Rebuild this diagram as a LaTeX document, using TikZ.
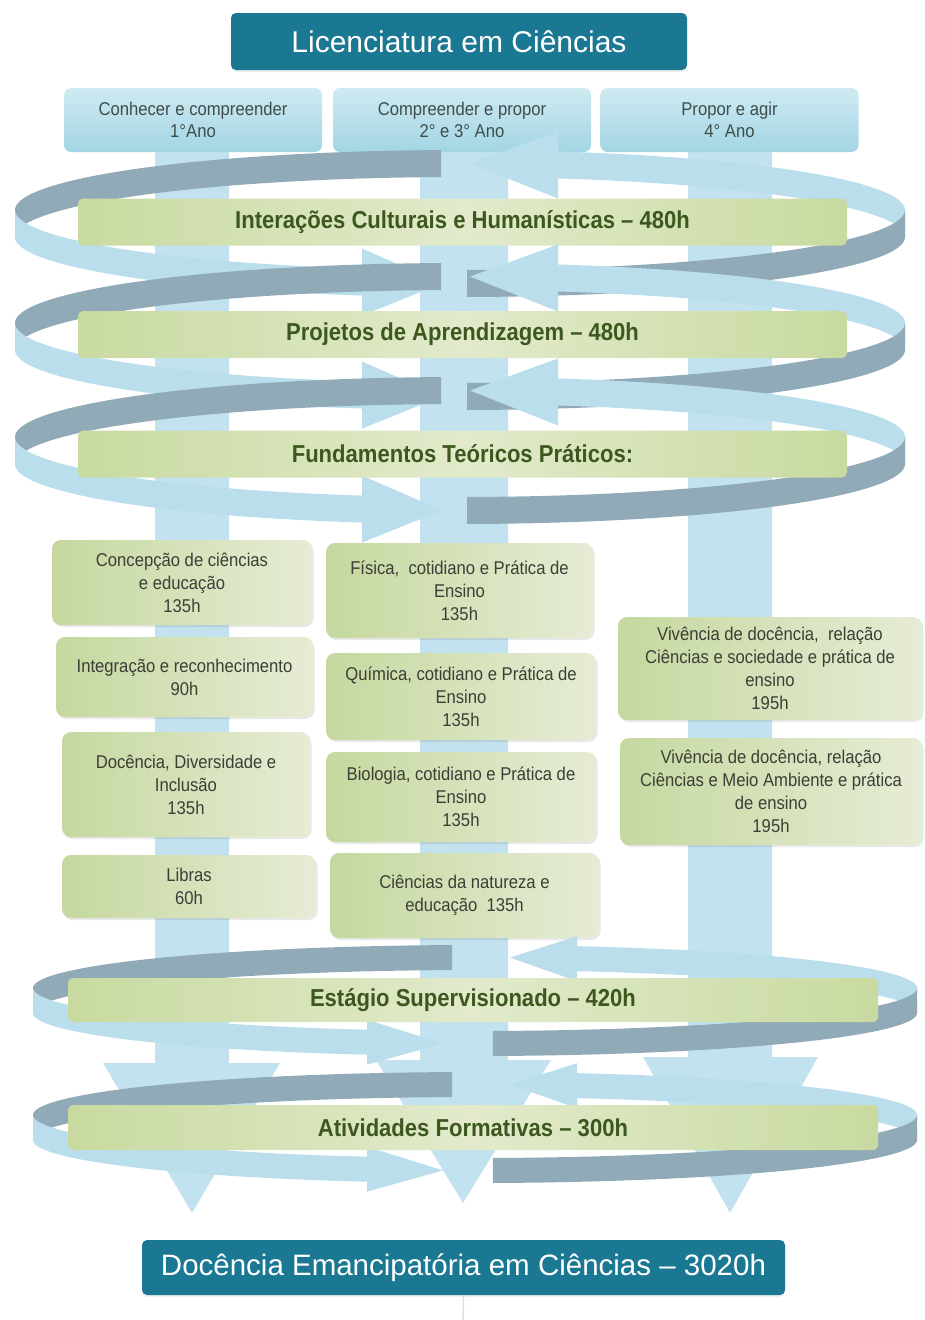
\documentclass[tikz,border=0pt]{standalone}
\usepackage{fontspec}
\setmainfont{Liberation Sans}
\newfontfamily\nf{Liberation Sans}[FakeStretch=0.9]
\usetikzlibrary{shadows}

\definecolor{titleblue}{HTML}{1B7893}
\definecolor{hdrtop}{HTML}{CFEAF2}
\definecolor{hdrbot}{HTML}{A3D5E4}
\definecolor{hdrtext}{HTML}{3F4D4A}
\definecolor{colblue}{HTML}{C1E2EE}
\definecolor{ringlight}{HTML}{BADEEB}
\definecolor{ringdark}{HTML}{90AAB7}
\definecolor{bandedge}{HTML}{C8DAA0}
\definecolor{bandmid}{HTML}{E2EACB}
\definecolor{boxA}{HTML}{C5D89F}
\definecolor{boxB}{HTML}{E6ECD5}
\definecolor{bandtext}{HTML}{3D581E}
\definecolor{boxtext}{HTML}{3B3F36}

% #1 cx, #2 cy (top edge ellipse centre), #3 rx, #4 ry, #5 ribbon height
\newcommand\drawring[5]{%
  \pgfmathsetmacro\rgA{360-acos((\rgdk-#1)/#3)}%
  \pgfmathsetmacro\rgB{360-acos((\rgtb-#1)/#3)}%
  \pgfmathsetmacro\rgT{360-acos((\rgtt-#1)/#3)}%
  \pgfmathsetmacro\rgC{acos((\rgbb-#1)/#3)}%
  \pgfmathsetmacro\rgE{acos((\rgbt-#1)/#3)}%
  \pgfmathsetmacro\rgD{acos((\rgds-#1)/#3)}%
  % back, top left (dark)
  \fill[ringdark] plot[domain=180:\rgA,samples=60] ({#1+#3*cos(\x)},{#2+#4*sin(\x)})
     -- plot[domain=\rgA:180,samples=60] ({#1+#3*cos(\x)},{#2+#5+#4*sin(\x)}) -- cycle;
  % back, top right (light) with arrow head pointing left
  \fill[ringlight] plot[domain=\rgB:360,samples=60] ({#1+#3*cos(\x)},{#2+#4*sin(\x)})
     -- plot[domain=360:\rgB,samples=60] ({#1+#3*cos(\x)},{#2+#5+#4*sin(\x)}) -- cycle;
  \fill[ringlight] (\rgtb,{#2+#4*sin(\rgB)-\rgaw}) -- (\rgtt,{#2+#4*sin(\rgT)+#5/2})
     -- (\rgtb,{#2+#4*sin(\rgB)+#5+\rgaw}) -- cycle;
  % front, bottom left (light) with arrow head pointing right
  \fill[ringlight] plot[domain=\rgC:180,samples=60] ({#1+#3*cos(\x)},{#2+#4*sin(\x)})
     -- plot[domain=180:\rgC,samples=60] ({#1+#3*cos(\x)},{#2+#5+#4*sin(\x)}) -- cycle;
  \fill[ringlight] (\rgbb,{#2+#4*sin(\rgC)-\rgaw}) -- (\rgbt,{#2+#4*sin(\rgE)+#5/2})
     -- (\rgbb,{#2+#4*sin(\rgC)+#5+\rgaw}) -- cycle;
  % front, bottom right (dark)
  \fill[ringdark] plot[domain=0:\rgD,samples=60] ({#1+#3*cos(\x)},{#2+#4*sin(\x)})
     -- plot[domain=\rgD:0,samples=60] ({#1+#3*cos(\x)},{#2+#5+#4*sin(\x)}) -- cycle;
}

\tikzset{
  titlebox/.style={fill=titleblue, rounded corners=5pt, text=white, inner sep=0pt,
    font=\fontsize{30}{36}\selectfont,
    drop shadow={opacity=0.12, shadow xshift=0pt, shadow yshift=-2pt}},
  hdr/.style={rounded corners=7pt, top color=hdrtop, bottom color=hdrbot,
    minimum width=258pt, minimum height=64pt, inner sep=0pt, align=center,
    text=hdrtext, font=\nf\fontsize{18.5}{22}\selectfont},
  band/.style={rounded corners=5pt, left color=bandedge, right color=bandedge,
    middle color=bandmid, inner sep=0pt, text=bandtext,
    font=\nf\bfseries\fontsize{24.5}{30}\selectfont},
  gbox/.style={rounded corners=9pt, left color=boxA, right color=boxB, inner sep=0pt,
    align=center, text=boxtext, font=\nf\fontsize{18.5}{23}\selectfont,
    drop shadow={opacity=0.18, shadow xshift=1.5pt, shadow yshift=-2pt}},
}

\begin{document}
\begin{tikzpicture}[x=1pt,y=-1pt]
\useasboundingbox (0,0) rectangle (925,1320);

% vertical columns with arrow heads
\fill[colblue] (155,150) -- (229,150) -- (229,1063) -- (280,1063) -- (192,1213)
  -- (103,1063) -- (155,1063) -- cycle;
\fill[colblue] (420,150) -- (508,150) -- (508,1060) -- (551,1060) -- (463,1203)
  -- (376,1060) -- (420,1060) -- cycle;
\fill[colblue] (688,150) -- (772,150) -- (772,1057) -- (818,1057) -- (730,1213)
  -- (643,1057) -- (688,1057) -- cycle;

% header boxes
\node[hdr] (h1) at (193,120) {Conhecer e compreender\\1°Ano};
\node[hdr] (h2) at (462,120) {Compreender e propor\\2° e 3° Ano};
\node[hdr] (h3) at (729.5,120) {Propor e agir\\4° Ano};

% rings 1-3 and their bands
\def\rgdk{441}\def\rgtt{470}\def\rgtb{558}\def\rgbb{362}\def\rgbt{442}\def\rgds{467}\def\rgaw{20}
\drawring{460}{210}{445}{60}{27}
\node[band, minimum width=769pt, minimum height=47pt] (b1) at (462.5,222)
  {Interações Culturais e Humanísticas – 480h};
\drawring{460}{323}{445}{60}{27}
\node[band, minimum width=769pt, minimum height=47pt] (b2) at (462.5,334.5)
  {Projetos de Aprendizagem – 480h};
\drawring{460}{437}{445}{60}{27}
\node[band, minimum width=769pt, minimum height=47pt] (b3) at (462.5,454)
  {Fundamentos Teóricos Práticos:};

% content boxes
\node[gbox, minimum width=260pt, minimum height=85pt] (c1) at (182,582.5)
  {Concepção de ciências\\e educação\\135h};
\node[gbox, minimum width=257pt, minimum height=80pt] (c2) at (184.5,677)
  {Integração e reconhecimento\\90h};
\node[gbox, minimum width=248pt, minimum height=105pt] (c3) at (186,784.5)
  {Docência, Diversidade e\\Inclusão\\135h};
\node[gbox, minimum width=254pt, minimum height=63pt] (c4) at (189,886.5)
  {Libras\\60h};
\node[gbox, minimum width=267pt, minimum height=95pt] (m1) at (459.5,590.5)
  {Física,\ \ cotidiano e Prática de\\Ensino\\135h};
\node[gbox, minimum width=270pt, minimum height=87pt] (m2) at (461,696.5)
  {Química, cotidiano e Prática de\\Ensino\\135h};
\node[gbox, minimum width=270pt, minimum height=90pt] (m3) at (461,797)
  {Biologia, cotidiano e Prática de\\Ensino\\135h};
\node[gbox, minimum width=269pt, minimum height=85pt] (m4) at (464.5,895.5)
  {Ciências da natureza e\\educação\ \ 135h};
\node[gbox, minimum width=304pt, minimum height=103pt] (r1) at (770,668.5)
  {Vivência de docência,\ \ relação\\Ciências e sociedade e prática de\\ensino\\195h};
\node[gbox, minimum width=302pt, minimum height=107pt] (r2) at (771,791.5)
  {Vivência de docência, relação\\Ciências e Meio Ambiente e prática\\de ensino\\195h};

% rings 4-5 and their bands
\def\rgdk{452}\def\rgtt{510}\def\rgtb{577}\def\rgbb{367}\def\rgbt{443}\def\rgds{493}\def\rgaw{10}
\drawring{475}{988}{442}{43}{25}
\node[band, minimum width=810pt, minimum height=44pt] (b4) at (473,1000)
  {Estágio Supervisionado – 420h};
\drawring{475}{1115}{442}{43}{25}
\node[band, minimum width=810pt, minimum height=45pt] (b5) at (473,1127.5)
  {Atividades Formativas – 300h};

% title and final box
\node[titlebox, minimum width=456pt, minimum height=57pt] (top) at (459,41.5)
  {Licenciatura em Ciências};
\node[titlebox, minimum width=643pt, minimum height=55pt, font=\fontsize{29.5}{35}\selectfont]
  (bot) at (463.5,1267.5) {Docência Emancipatória em Ciências – 3020h};
\coordinate (mk) at (463,1320);
\draw[black!12, line width=1.5pt] (bot.south) -- (mk);
\end{tikzpicture}
\end{document}
